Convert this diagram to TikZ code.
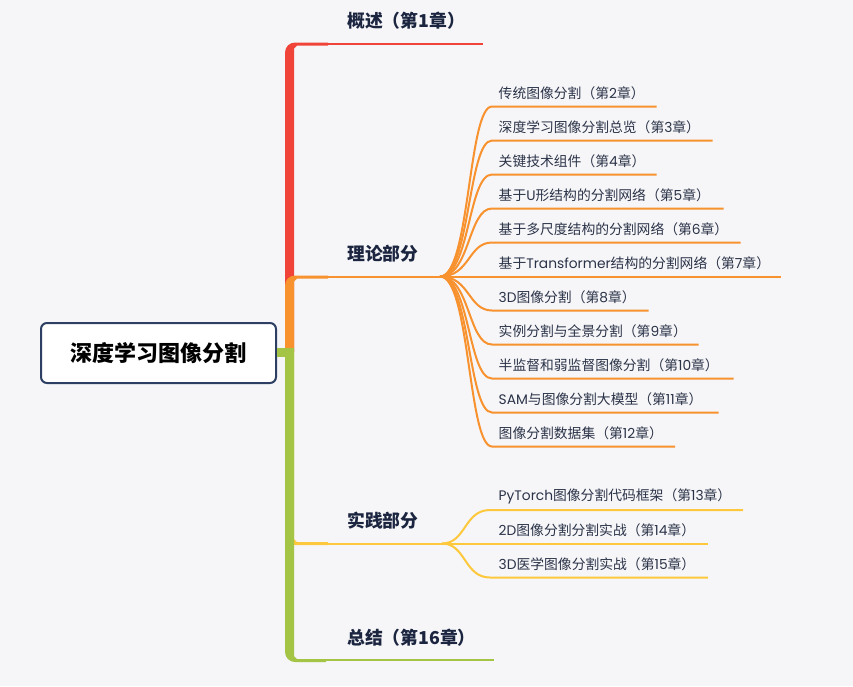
\documentclass[tikz,border=0pt]{standalone}
\usepackage{fontspec}
\setmainfont{Noto Sans CJK SC}
\newfontfamily\latn{Poppins}
\definecolor{bgc}{HTML}{F6F6F8}
\definecolor{cR}{HTML}{F0443A}
\definecolor{cO}{HTML}{F7922E}
\definecolor{cY}{HTML}{FDC83C}
\definecolor{cG}{HTML}{A4C445}
\definecolor{cRoot}{HTML}{2D3F63}
\definecolor{tMain}{HTML}{1B2540}
\definecolor{tChild}{HTML}{2B3348}
\tikzset{
  rootbox/.style={draw=cRoot, line width=2pt, fill=white, rounded corners=6pt,
    minimum width=235pt, minimum height=60pt, inner sep=0pt,
    font=\fontsize{22}{24}\selectfont\bfseries, text=black},
  mainlbl/.style={anchor=west, inner sep=0pt, text=tMain,
    font=\fontsize{17.8}{20}\selectfont\bfseries},
  childlbl/.style={anchor=west, inner sep=0pt, text=tChild,
    font=\fontsize{13.8}{16}\selectfont},
  thin/.style={line width=2pt},
}
\begin{document}
\begin{tikzpicture}[x=1pt,y=-1pt]
\fill[bgc] (0,0) rectangle (853,686);
\useasboundingbox (0,0) rectangle (853,686);

% root
\node[rootbox] (root) at (158.5,353) {深度学习图像分割};

% coordinates
\coordinate (rEnd) at (483,43.5);
\coordinate (rJ) at (327,43.5);
\coordinate (oJ) at (327,276.5);
\coordinate (fanT) at (440,276.5);
\coordinate (yJ) at (327,543.5);
\coordinate (fanP) at (442,543.5);
\coordinate (gJ) at (325,660);
\coordinate (gEnd) at (494,660);

% red branch
\fill[cR] (285,352) -- (285,52.5) .. controls (285,47) and (289.5,42.5) .. (295,42.5)
  -- (328,42.5) -- (328,45.5) -- (297,45.5) -- (294,48.5) -- (294,352) -- cycle;
\draw[cR,thin] (rJ) -- (rEnd);
% orange branch
\fill[cO] (285,352) -- (285,285.5) .. controls (285,280) and (289.5,275.5) .. (295,275.5)
  -- (328,275.5) -- (328,278.5) -- (297,278.5) -- (294,281.5) -- (294,352) -- cycle;
\draw[cO,thin] (oJ) -- (fanT);
% yellow branch
\fill[cY] (285,352) -- (285,535) .. controls (285,540.5) and (289.5,545) .. (295,545)
  -- (328,545) -- (328,542) -- (297,542) -- (294,539) -- (294,352) -- cycle;
\draw[cY,thin] (yJ) -- (fanP);
% green branch
\fill[cG] (285,348) -- (285,652) .. controls (285,657.5) and (289.5,662) .. (295,662)
  -- (326,662) -- (326,659) -- (297,659) -- (294,656) -- (294,348) -- cycle;
\fill[cG] (root.east |- 0,348) rectangle (294,357);
\draw[cG,thin] (gJ) -- (gEnd);

% main labels
\node[mainlbl] (m1) at (347,21) {概述（第1章）};
\node[mainlbl] (m2) at (347,253.5) {理论部分};
\node[mainlbl] (m3) at (347,521) {实践部分};
\node[mainlbl] (m4) at (347,637.5) {总结（第16章）};

% theory children
\foreach \y/\e [count=\i] in {106.5/656.5, 140.5/712.5, 174.5/656.5, 208.5/723.5,
  242.5/740.5, 276.5/780.5, 310.5/648.5, 344.5/698.5, 378.5/733.5, 412.5/718.5, 446.5/675}{
  \coordinate (t\i) at (\e,\y);
  \draw[cO,thin] (fanT) .. controls (470,276.5) and (468,\y) .. (492,\y) -- (t\i);
}
\node[childlbl] (c1) at (498.5,93.5) {传统图像分割（第{\latn 2}章）};
\node[childlbl] (c2) at (498.5,127.5) {深度学习图像分割总览（第{\latn 3}章）};
\node[childlbl] (c3) at (498.5,161.5) {关键技术组件（第{\latn 4}章）};
\node[childlbl] (c4) at (498.5,195.5) {基于{\latn U}形结构的分割网络（第{\latn 5}章）};
\node[childlbl] (c5) at (498.5,229.5) {基于多尺度结构的分割网络（第{\latn 6}章）};
\node[childlbl] (c6) at (498.5,263.5) {基于{\latn Transformer}结构的分割网络（第{\latn 7}章）};
\node[childlbl] (c7) at (498.5,297.5) {{\latn 3D}图像分割（第{\latn 8}章）};
\node[childlbl] (c8) at (498.5,331.5) {实例分割与全景分割（第{\latn 9}章）};
\node[childlbl] (c9) at (498.5,365.5) {半监督和弱监督图像分割（第{\latn 10}章）};
\node[childlbl] (c10) at (498.5,399.5) {{\latn SAM}与图像分割大模型（第{\latn 11}章）};
\node[childlbl] (c11) at (498.5,433.5) {图像分割数据集（第{\latn 12}章）};

% practice children
\foreach \y/\e [count=\i] in {510/743, 543.5/708, 577.5/708}{
  \coordinate (p\i) at (\e,\y);
  \draw[cY,thin] (fanP) .. controls (466,543.5) and (464,\y) .. (490,\y) -- (p\i);
}
\node[childlbl] (d1) at (498.5,496.5) {{\latn PyTorch}图像分割代码框架（第{\latn 13}章）};
\node[childlbl] (d2) at (498.5,530.5) {{\latn 2D}图像分割分割实战（第{\latn 14}章）};
\node[childlbl] (d3) at (498.5,564.5) {{\latn 3D}医学图像分割实战（第{\latn 15}章）};
\end{tikzpicture}
\end{document}
